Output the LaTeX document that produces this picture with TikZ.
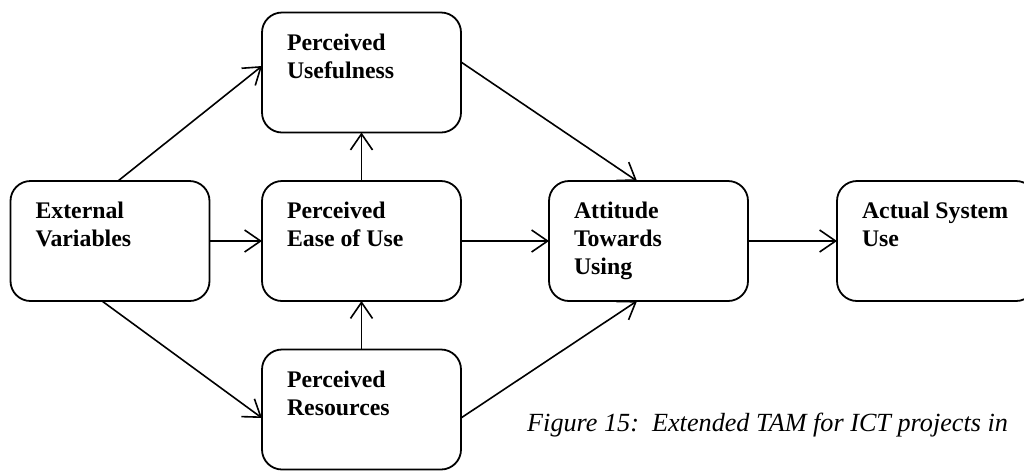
\documentclass[tikz,border=0pt]{standalone}
\usepackage{fontspec}
\setmainfont{Liberation Serif}
\usetikzlibrary{arrows.meta}

\tikzset{
  box/.style={draw, line width=1.8pt, rounded corners=20pt,
    minimum width=199pt, minimum height=120pt,
    inner xsep=25pt, inner ysep=21pt, outer sep=0pt},
  link/.style={line width=1.6pt,
    -{Straight Barb[length=16pt,width=22pt,line width=1.6pt]}},
}
\newcommand{\boxtext}[1]{\parbox[c][78pt][t]{149pt}{\fontsize{23.8}{28}\selectfont\bfseries\raggedright #1}}

\begin{document}
\begin{tikzpicture}[x=1pt,y=1pt]
\useasboundingbox (0,0) rectangle (1024,-475);

% constructs of the model
\node[box] (ev) at (110,-241)   {\boxtext{External\\Variables}};
\node[box] (pu) at (361.5,-72.5) {\boxtext{Perceived\\Usefulness}};
\node[box] (pe) at (361.5,-241) {\boxtext{Perceived\\Ease of Use}};
\node[box] (pr) at (361.5,-409.5) {\boxtext{Perceived\\Resources}};
\node[box] (at) at (648.5,-241) {\boxtext{Attitude\\Towards\\Using}};
\node[box] (as) at (936.5,-241) {\boxtext{Actual System\\Use}};

% relations
\draw[link] ([xshift=8pt]ev.north) -- ([yshift=6.5pt]pu.west);
\draw[link] (ev.east) -- (pe.west);
\draw[link] ([xshift=-8pt]ev.south) -- ([yshift=-8.5pt]pr.west);
\draw[link] (pe.north) -- (pu.south);
\draw[link] (pr.north) -- (pe.south);
\draw[link] ([yshift=10.5pt]pu.east) -- ([xshift=-11.5pt]at.north);
\draw[link] (pe.east) -- (at.west);
\draw[link] ([yshift=-8.5pt]pr.east) -- ([xshift=-11.5pt]at.south);
\draw[link] (at.east) -- (as.west);

% caption
\node[anchor=base west, inner sep=0pt, font=\fontsize{26.2}{30}\selectfont\itshape] (cap) at (527,-431)
  {Figure 15:\ \ Extended TAM for ICT projects in};
\end{tikzpicture}
\end{document}
